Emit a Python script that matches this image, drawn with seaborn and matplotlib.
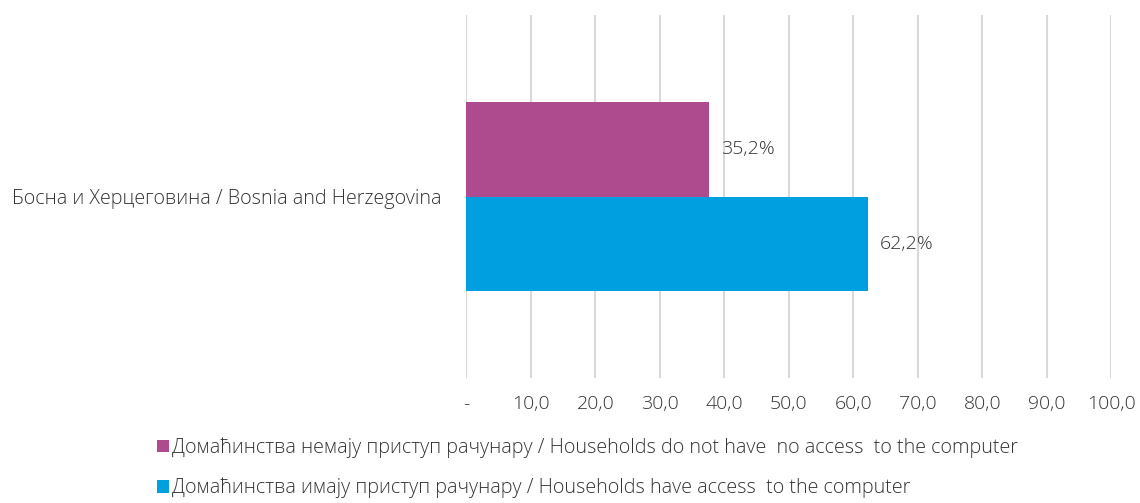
import pandas as pd
import matplotlib.pyplot as plt
import seaborn as sns
from matplotlib.patches import Patch

# values
category = ["Босна и Херцеговина / Bosnia and Herzegovina"]
series = ["Домаћинства немају приступ рачунару / Households do not have  no access  to the computer",
          "Домаћинства имају приступ рачунару / Households have access  to the computer"]
values = [37.6, 62.2]
value_labels = ["35,2%", "62,2%"]
colors = ["#ae4b8f", "#009fdf"]
ticks = [0, 10, 20, 30, 40, 50, 60, 70, 80, 90, 100]
tick_labels = ["-", "10,0", "20,0", "30,0", "40,0", "50,0", "60,0", "70,0", "80,0", "90,0", "100,0"]

df = pd.DataFrame({"category": category * len(series), "series": series, "value": values})

sns.set_style("white")
plt.rcParams["font.family"] = ["Open Sans", "DejaVu Sans"]
plt.rcParams["font.weight"] = "light"
text_color = "#333333"

fig = plt.figure(figsize=(11.4, 5.03), dpi=100)
ax = fig.add_axes([0.409, 0.248, 0.566, 0.722])

sns.barplot(data=df, x="value", y="category", hue="series", hue_order=series,
            palette=colors, orient="h", width=0.52, saturation=1, legend=False,
            linewidth=0, ax=ax)

for cont, lab in zip(ax.containers, value_labels):
    ax.bar_label(cont, labels=[lab], padding=9, fontsize=14, color=text_color)

ax.set_xlim(0, 100)
ax.set_xticks(ticks)
ax.set_xticklabels(tick_labels, fontsize=14, color=text_color)
ax.tick_params(axis="x", length=0, pad=12)
ax.tick_params(axis="y", length=0, pad=18, labelsize=14.2, labelcolor=text_color)
ax.set_xlabel("")
ax.set_ylabel("")
ax.xaxis.grid(True, color="#d9d9d9", linewidth=1.5)
ax.set_axisbelow(True)
for s in ax.spines.values():
    s.set_visible(False)

handles = [Patch(facecolor=c, edgecolor="none") for c in colors]
fig.legend(handles, series, loc="lower left", bbox_to_anchor=(0.122, -0.026), frameon=False,
           fontsize=14.2, handlelength=0.6, handleheight=0.6, handletextpad=0.15,
           labelspacing=1.0, labelcolor=text_color)

fig.savefig("out.png", dpi=100)
